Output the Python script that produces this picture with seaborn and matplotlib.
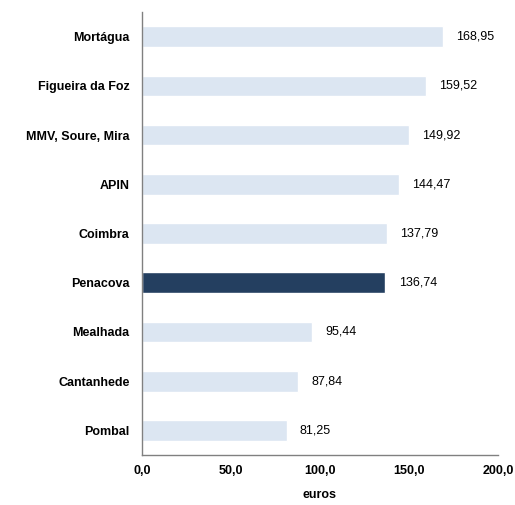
import pandas as pd
import seaborn as sns
import matplotlib.pyplot as plt

municipios = ["Mortágua", "Figueira da Foz", "MMV, Soure, Mira", "APIN", "Coimbra",
              "Penacova", "Mealhada", "Cantanhede", "Pombal"]
valores = [168.95, 159.52, 149.92, 144.47, 137.79, 136.74, 95.44, 87.84, 81.25]
destaque = "Penacova"

df = pd.DataFrame({"municipio": municipios, "valor": valores})
df["grupo"] = ["dest" if m == destaque else "outro" for m in municipios]

sns.set_style("white")
plt.rcParams["font.family"] = ["Liberation Sans", "DejaVu Sans"]

fig = plt.figure(figsize=(5.15, 5.05), dpi=100)
ax = fig.add_axes([0.2757, 0.099, 0.691, 0.877])

sns.barplot(data=df, x="valor", y="municipio", hue="grupo", orient="h",
            palette={"outro": "#DCE6F2", "dest": "#243F60"}, saturation=1,
            dodge=False, width=0.42, legend=False, ax=ax)

for i, v in enumerate(valores):
    ax.text(v + 7.5, i, f"{v:.2f}".replace(".", ","), va="center", ha="left",
            fontsize=9, color="black")

ax.set_xlim(0, 200)
ax.set_ylim(8.5, -0.5)
ax.set_xticks([0, 50, 100, 150, 200])
ax.set_xticklabels([f"{t:.1f}".replace(".", ",") for t in [0, 50, 100, 150, 200]],
                   fontsize=9, fontweight="bold", color="black")
ax.set_yticks(range(len(municipios)))
ax.set_yticklabels(municipios, fontsize=9, fontweight="bold", color="black")
ax.tick_params(axis="y", length=0, pad=9)
ax.tick_params(axis="x", length=0, pad=7)
ax.set_xlabel("euros", fontsize=9, fontweight="bold", labelpad=9, color="black")
ax.set_ylabel("")

for s in ["top", "right"]:
    ax.spines[s].set_visible(False)
for s in ["left", "bottom"]:
    ax.spines[s].set_color("#808080")
    ax.spines[s].set_linewidth(1)

fig.savefig("out.png", dpi=100)
